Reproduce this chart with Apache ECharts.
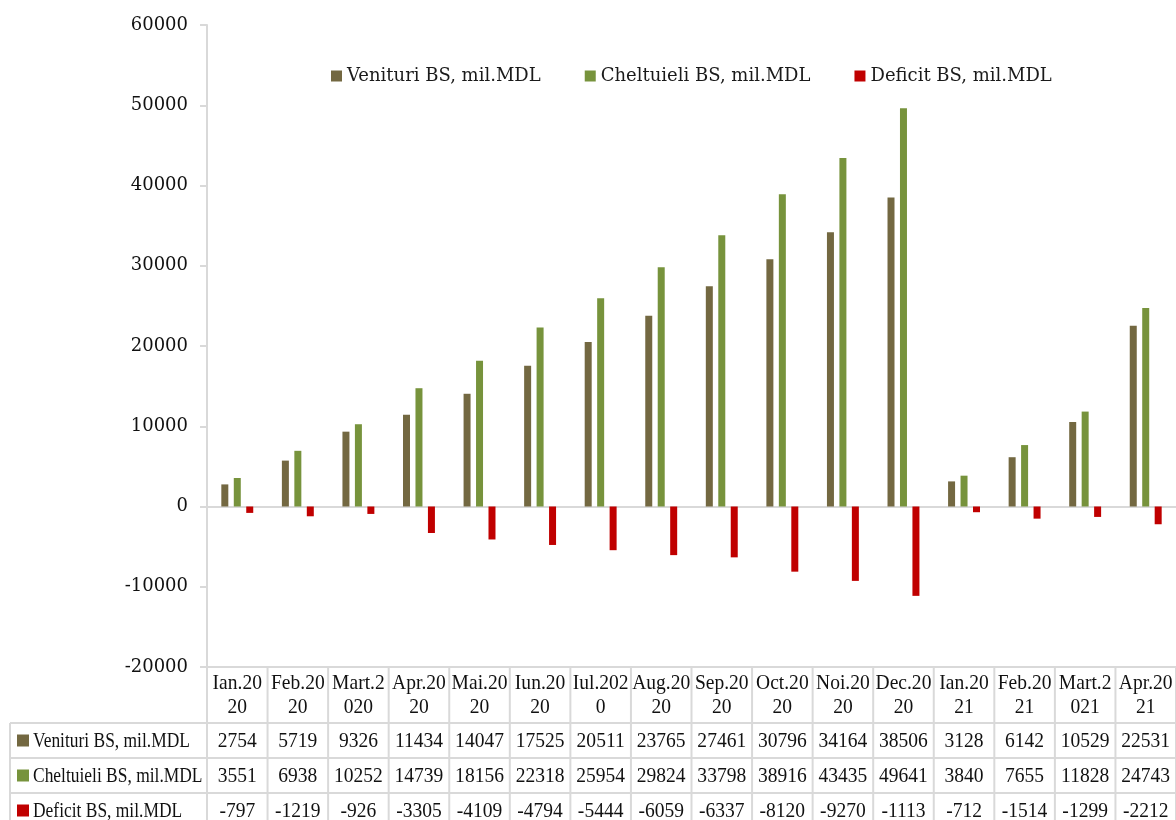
<!DOCTYPE html>
<html>
<head>
<meta charset="utf-8">
<script src="https://cdn.jsdelivr.net/npm/echarts@6/dist/echarts.min.js"></script>
<style>
  html, body { margin: 0; padding: 0; background: #fff; }
  #chart { width: 1176px; height: 820px; }
</style>
</head>
<body>
<div id="chart"></div>
<script>
// categories as they appear (Excel wraps them inside the table cells)
const months = ['Ian.2020', 'Feb.2020', 'Mart.2020', 'Apr.2020', 'Mai.2020', 'Iun.2020', 'Iul.2020', 'Aug.2020',
  'Sep.2020', 'Oct.2020', 'Noi.2020', 'Dec.2020', 'Ian.2021', 'Feb.2021', 'Mart.2021', 'Apr.2021']
const headLabels = ['Ian.20\n20', 'Feb.20\n20', 'Mart.2\n020', 'Apr.20\n20', 'Mai.20\n20', 'Iun.20\n20', 'Iul.202\n0', 'Aug.20\n20',
  'Sep.20\n20', 'Oct.20\n20', 'Noi.20\n20', 'Dec.20\n20', 'Ian.20\n21', 'Feb.20\n21', 'Mart.2\n021', 'Apr.20\n21']

const venituri = [2754, 5719, 9326, 11434, 14047, 17525, 20511, 23765, 27461, 30796, 34164, 38506, 3128, 6142, 10529, 22531]
const cheltuieli = [3551, 6938, 10252, 14739, 18156, 22318, 25954, 29824, 33798, 38916, 43435, 49641, 3840, 7655, 11828, 24743]
const deficit = [-797, -1219, -926, -3305, -4109, -4794, -5444, -6059, -6337, -8120, -9270, -11135, -712, -1514, -1299, -2212]

const yTicks = [-20000, -10000, 0, 10000, 20000, 30000, 40000, 50000, 60000]

const seriesNames = ['Venituri BS, mil.MDL', 'Cheltuieli BS, mil.MDL', 'Deficit BS, mil.MDL']
const colors = ['#736841', '#77933c', '#c00000']
const lineColor = '#d9d9d9'
const tableFont = 'Liberation Serif'

const chart = echarts.init(document.getElementById('chart'))

const option = {
  animation: false,
  color: colors,
  grid: { left: 207, right: 0, top: 25, bottom: 153, containLabel: false },
  legend: {
    left: 326,
    top: 62,
    itemWidth: 11,
    itemHeight: 11,
    itemGap: 44,
    icon: 'rect',
    textStyle: { fontFamily: 'DejaVu Serif', fontSize: 18, color: '#1a1a1a' },
    data: seriesNames,
  },
  xAxis: {
    type: 'category',
    data: months,
    axisLine: { show: true, onZero: true, lineStyle: { color: lineColor, width: 2 } },
    axisTick: { show: false },
    axisLabel: { show: false },
    splitLine: { show: false },
  },
  yAxis: {
    type: 'value',
    min: yTicks[0],
    max: yTicks[yTicks.length - 1],
    interval: 10000,
    axisLine: { show: true, lineStyle: { color: lineColor, width: 2 } },
    axisTick: { show: true, inside: false, length: 7, lineStyle: { color: lineColor, width: 2 } },
    axisLabel: {
      margin: 19,
      fontFamily: 'DejaVu Serif',
      fontSize: 18,
      color: '#111',
      formatter: (v) => String(v),
    },
    splitLine: { show: false },
  },
  series: [
    { name: seriesNames[0], type: 'bar', data: venituri, barWidth: 7, barGap: '78%' },
    { name: seriesNames[1], type: 'bar', data: cheltuieli, barWidth: 7, barGap: '78%' },
    { name: seriesNames[2], type: 'bar', data: deficit, barWidth: 7, barGap: '78%' },
  ],
}
chart.setOption(option)

// data table under the plot, placed from the category axis
function drawTable() {
  const els = []
  const x0 = chart.convertToPixel({ xAxisIndex: 0 }, 0)
  const x1 = chart.convertToPixel({ xAxisIndex: 0 }, 1)
  const band = x1 - x0
  const left = x0 - band / 2
  const right = chart.convertToPixel({ xAxisIndex: 0 }, months.length - 1) + band / 2
  const top = chart.convertToPixel({ yAxisIndex: 0 }, yTicks[0])
  const headH = 56
  const rowH = 35
  const rowsTop = top + headH
  const labelLeft = 10
  const bottom = rowsTop + rowH * 3 + 10

  const line = (a, b, c, d) => els.push({
    type: 'line', silent: true,
    shape: { x1: a, y1: b, x2: c, y2: d },
    style: { stroke: lineColor, lineWidth: 2 },
  })
  const text = (t, x, y, align, sx) => els.push({
    type: 'text', silent: true, x: x, y: y, scaleX: sx,
    style: {
      text: t, fill: '#111', fontFamily: tableFont, fontSize: 21,
      align: align, verticalAlign: 'middle', lineHeight: 24,
    },
  })

  // horizontal lines
  line(left, top, right, top)
  for (let r = 0; r <= 3; r++) {
    line(labelLeft, rowsTop + r * rowH, right, rowsTop + r * rowH)
  }
  // vertical lines
  for (let i = 0; i <= months.length; i++) {
    const x = left + i * band
    line(x, top, x, bottom)
  }
  line(labelLeft, rowsTop, labelLeft, bottom)

  // header
  headLabels.forEach((h, i) => {
    text(h, left + (i + 0.5) * band, top + headH / 2, 'center', 0.93)
  })

  // rows
  const rows = [venituri, cheltuieli, deficit]
  rows.forEach((vals, r) => {
    const cy = rowsTop + r * rowH + rowH / 2
    els.push({
      type: 'rect', silent: true,
      shape: { x: 17, y: cy - 6, width: 12, height: 12 },
      style: { fill: colors[r] },
    })
    text(seriesNames[r], 33, cy + 1, 'left', 0.83)
    vals.forEach((v, i) => {
      // Excel clips cell text to the column width (5 characters here)
      text(String(v).slice(0, 5), left + (i + 0.5) * band, cy + 1, 'center', 0.93)
    })
  })

  chart.setOption({ graphic: els })
}
drawTable()
</script>
</body>
</html>
